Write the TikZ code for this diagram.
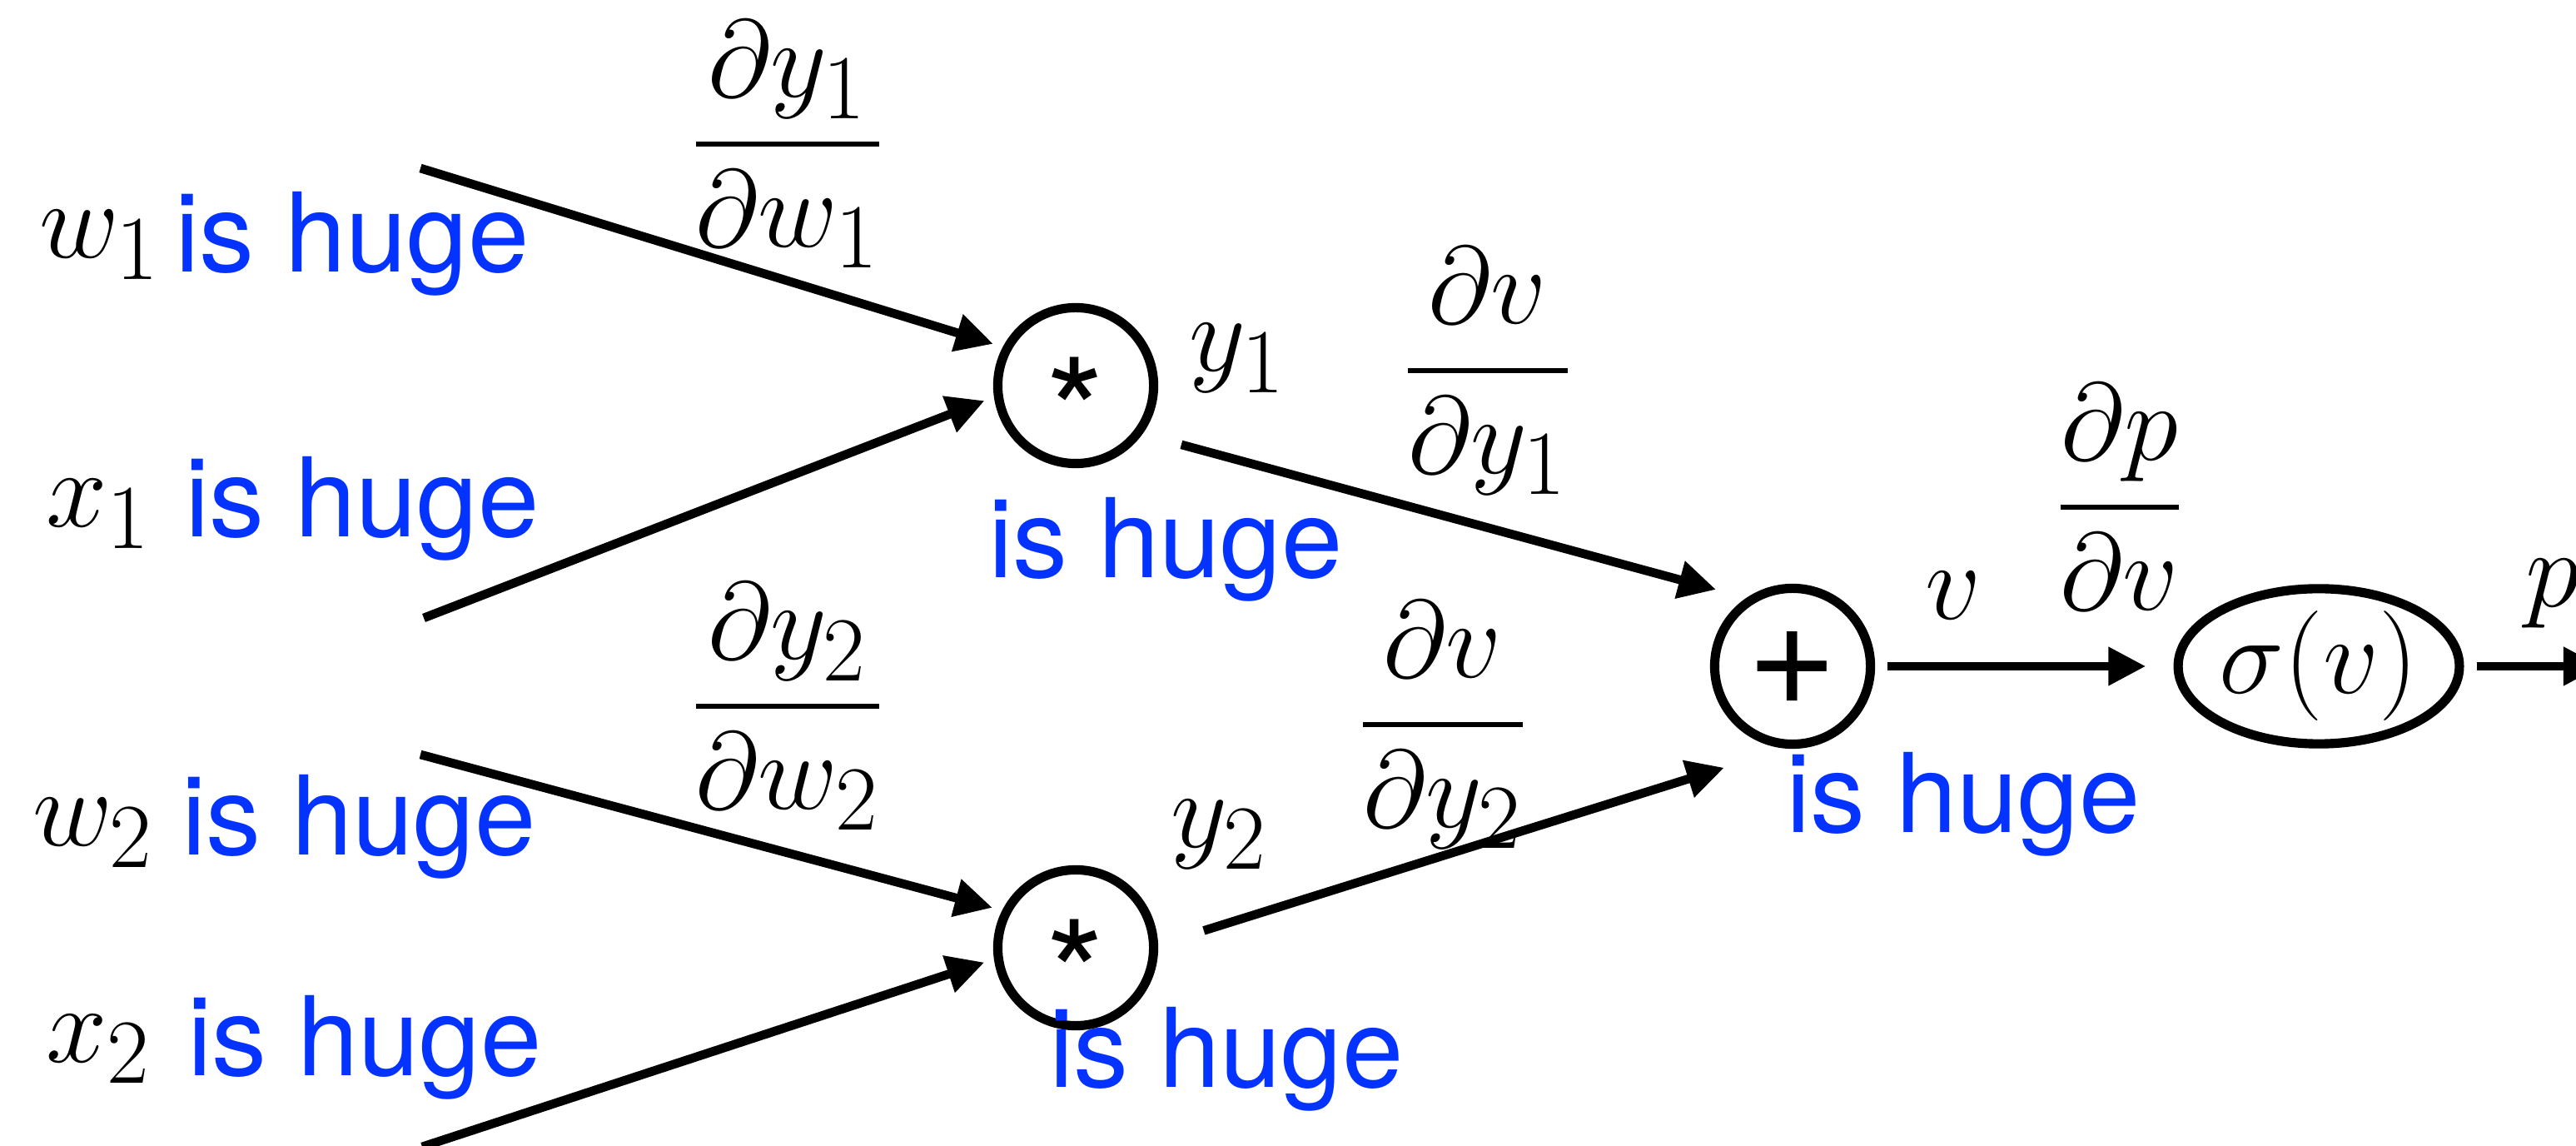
\documentclass[tikz,border=0pt]{standalone}
\usepackage{amsmath}
\usepackage{fontspec}
\newfontfamily\helv{TeX Gyre Heros}
\usetikzlibrary{arrows.meta,shapes.geometric}
\definecolor{hugeblue}{RGB}{4,51,255}

\begin{document}
\begin{tikzpicture}[
    x=0.6625cm,
    y=0.6625cm,
    font=\Huge,
    op/.style={
      draw,
      circle,
      line width=2.1pt,
      minimum size=1.24cm,
      inner sep=0pt
    },
    act/.style={
      draw,
      ellipse,
      line width=2.1pt,
      minimum width=2.13cm,
      minimum height=1.22cm,
      inner sep=0pt
    },
    var/.style={
      inner sep=0pt,
      anchor=base west
    },
    note/.style={
      inner sep=0pt,
      anchor=base west,
      text=hugeblue,
      font=\Huge\helv
    },
    grad/.style={
      inner sep=0pt,
      anchor=base
    },
    flow/.style={
      -{Triangle[length=8.5pt,width=8.3pt]},
      line width=2pt
    }
  ]

    \useasboundingbox (0,0) rectangle (30.94,13.75);

    % --- Operation nodes
    \node[op] (mul1) at (12.92,9.12) {\helv\fontsize{34}{34}\selectfont\smash{\raisebox{-0.54em}{*}}};
    \node[op] (mul2) at (12.92,2.37) {\helv\fontsize{34}{34}\selectfont\smash{\raisebox{-0.54em}{*}}};
    \node[op] (add) at (21.53,5.75) {\helv\fontsize{35}{35}\selectfont\smash{\raisebox{-0.25em}{+}}};
    \node[act] (sigm) at (27.85,5.75) {$\sigma(v)$};

    % --- Inputs
    \node[var] (w1) at (0.46,10.65) {$w_1$};
    \node[var] (x1) at (0.54,7.42) {$x_1$};
    \node[var] (w2) at (0.38,3.59) {$w_2$};
    \node[var] (x2) at (0.54,1.00) {$x_2$};

    % --- Intermediate values
    \node[var] (y1) at (14.27,9.29) {$y_1$};
    \node[var] (y2) at (14.05,3.57) {$y_2$};
    \node[var] (v) at (23.11,6.31) {$v$};
    \node[var] (p) at (30.32,6.46) {$p$};

    % --- Blue remarks
    \node[note] (w1huge) at (2.09,10.48) {is huge};
    \node[note] (x1huge) at (2.21,7.30) {is huge};
    \node[note] (w2huge) at (2.17,3.48) {is huge};
    \node[note] (x2huge) at (2.24,0.84) {is huge};
    \node[note] (mul1huge) at (11.86,6.81) {is huge};
    \node[note] (mul2huge) at (12.59,0.70) {is huge};
    \node[note] (addhuge) at (21.44,3.76) {is huge};

    % --- Local gradients
    \node[grad] (dw1) at (9.46,11.69) {$\dfrac{\partial y_1}{\partial w_1}$};
    \node[grad] (dw2) at (9.46,4.94) {$\dfrac{\partial y_2}{\partial w_2}$};
    \node[grad] (dy1) at (17.87,8.97) {$\dfrac{\partial v}{\partial y_1}$};
    \node[grad] (dy2) at (17.33,4.72) {$\dfrac{\partial v}{\partial y_2}$};
    \node[grad] (dv) at (25.46,7.33) {$\dfrac{\partial p}{\partial v}$};

    % --- Free ends of the input and output arrows
    \coordinate (w1in) at (5.05,11.73);
    \coordinate (x1in) at (5.09,6.33);
    \coordinate (w2in) at (5.05,4.69);
    \coordinate (x2in) at (5.07,-0.02);
    \coordinate (pout) at (31.24,5.75);

    % --- Forward flow
    \draw[flow, shorten >=0.08cm] (w1in) -- (mul1.152);
    \draw[flow, shorten >=0.08cm] (x1in) -- (mul1.188);
    \draw[flow, shorten >=0.08cm] (w2in) -- (mul2.153);
    \draw[flow, shorten >=0.08cm] (x2in) -- (mul2.188);
    \draw[flow, shorten <=0.32cm, shorten >=0.25cm] (mul1.-36) -- (add.124);
    \draw[flow, shorten <=0.38cm, shorten >=0.51cm] (mul2.2) -- (add.265);
    \draw[flow, shorten <=0.1cm, shorten >=0.22cm] (add.east) -- (sigm.west);
    \draw[flow, shorten <=0.1cm] (sigm.east) -- (pout);

  \end{tikzpicture}
\end{document}
